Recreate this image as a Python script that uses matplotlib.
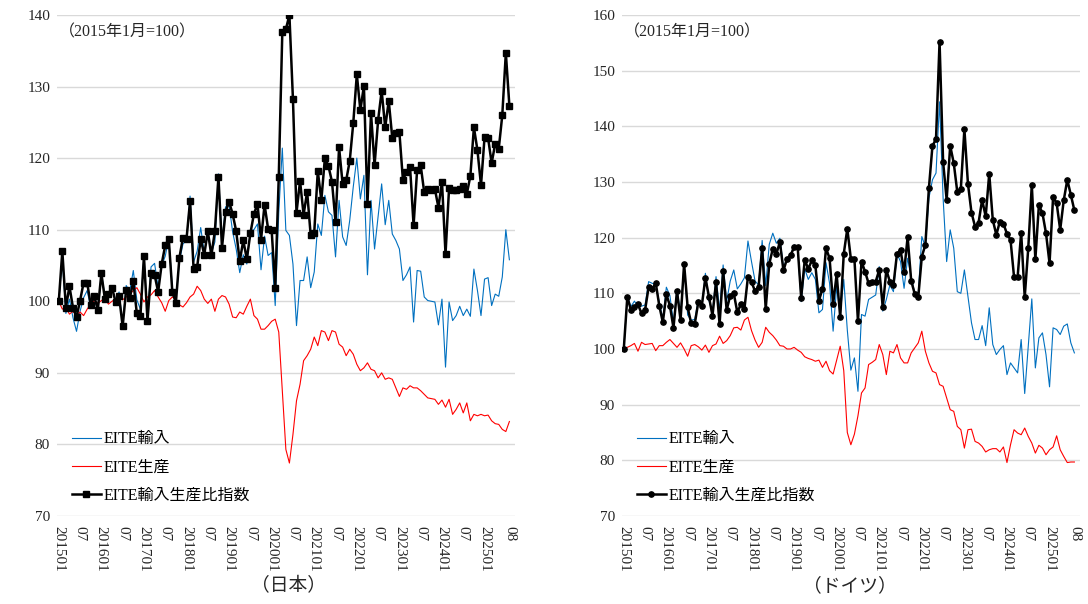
import numpy as np
import pandas as pd
import matplotlib
matplotlib.use('Agg')
import matplotlib.pyplot as plt

plt.rcParams['font.family'] = ['Liberation Serif', 'Noto Sans CJK JP']

# monthly categories, 2015-01 .. 2025-08
months = pd.period_range('2015-01', '2025-08', freq='M')

# --- Japan (2015年1月=100) ---
jp_import = [
    100.0, 105.8, 98.3, 100.3, 97.7, 95.8, 98.6, 100.5, 101.5, 99.1,
    100.8, 98.5, 104.0, 100.7, 100.6, 101.9, 100.2, 101.3, 96.7, 102.2,
    101.4, 104.3, 100.2, 98.9, 106.2, 97.9, 104.8, 105.3, 101.9, 105.0,
    106.3, 108.8, 101.9, 100.1, 105.6, 108.0, 108.5, 114.7, 105.5, 107.0,
    110.3, 106.8, 109.5, 106.7, 108.3, 117.8, 108.4, 113.2, 113.4, 109.7,
    107.3, 104.0, 106.5, 105.2, 109.8, 110.0, 110.8, 104.4, 109.1, 106.4,
    106.8, 99.4, 112.4, 121.4, 109.9, 109.2, 105.2, 96.6, 102.9, 102.9,
    106.2, 101.9, 104.1, 110.8, 109.2, 114.8, 112.5, 112.0, 106.2, 114.1,
    109.0, 107.8, 111.3, 116.0, 120.0, 114.3, 117.6, 103.7, 114.1, 107.3,
    111.8, 116.4, 110.7, 114.1, 109.4, 108.5, 107.3, 102.9, 103.7, 104.8,
    97.1, 104.3, 104.2, 100.6, 100.1, 100.0, 99.9, 96.7, 100.3, 90.8,
    99.9, 97.3, 98.0, 99.3, 98.0, 98.9, 97.9, 104.5, 101.5, 98.0,
    103.1, 103.3, 99.4, 101.0, 100.7, 103.4, 110.0, 105.8,
]
jp_prod = [
    100.0, 98.9, 99.2, 98.2, 98.6, 98.0, 98.5, 98.0, 98.9, 99.6,
    100.1, 99.7, 100.1, 100.4, 99.6, 100.0, 100.3, 100.6, 100.2, 100.6,
    101.0, 101.5, 101.9, 101.0, 99.9, 100.6, 100.9, 101.5, 100.6, 99.8,
    98.6, 100.1, 100.6, 100.3, 99.5, 99.2, 99.8, 100.6, 101.0, 102.1,
    101.5, 100.3, 99.7, 100.3, 98.6, 100.3, 100.8, 100.6, 99.6, 97.8,
    97.7, 98.5, 98.2, 99.3, 100.3, 98.0, 97.5, 96.1, 96.1, 96.6,
    97.2, 97.5, 95.7, 87.5, 79.3, 77.4, 81.4, 86.1, 88.4, 91.7,
    92.4, 93.3, 95.0, 93.8, 95.9, 95.7, 94.5, 95.9, 95.7, 94.0,
    93.6, 92.4, 93.3, 92.6, 91.2, 90.3, 90.7, 91.4, 90.5, 90.3,
    89.3, 90.0, 89.1, 89.3, 89.1, 87.9, 86.7, 87.9, 87.7, 88.2,
    87.9, 87.9, 87.5, 87.0, 86.5, 86.4, 86.3, 85.6, 86.2, 85.2,
    86.3, 84.2, 84.9, 85.8, 84.4, 85.8, 83.3, 84.2, 84.0, 84.2,
    84.0, 84.1, 83.3, 82.9, 82.8, 82.1, 81.8, 83.2,
]
jp_ratio = [
    100.0, 107.0, 99.1, 102.1, 99.1, 97.8, 100.1, 102.6, 102.6, 99.5,
    100.7, 98.8, 103.9, 100.3, 101.0, 101.9, 99.9, 100.7, 96.5, 101.6,
    100.4, 102.8, 98.3, 97.9, 106.3, 97.3, 103.9, 103.7, 101.3, 105.2,
    107.8, 108.7, 101.3, 99.8, 106.1, 108.9, 108.7, 114.0, 104.5, 104.8,
    108.7, 106.5, 109.8, 106.4, 109.8, 117.4, 107.5, 112.5, 113.9, 112.2,
    109.8, 105.6, 108.5, 105.9, 109.5, 112.2, 113.6, 108.6, 113.5, 110.1,
    109.9, 101.9, 117.4, 137.6, 138.0, 140.0, 128.2, 112.4, 116.8, 112.1,
    115.3, 109.2, 109.6, 118.2, 114.1, 120.0, 118.9, 116.7, 111.1, 121.5,
    116.4, 116.9, 119.6, 124.9, 131.7, 126.7, 130.1, 113.6, 126.3, 119.0,
    125.3, 129.4, 124.3, 128.0, 122.8, 123.5, 123.6, 116.9, 118.1, 118.8,
    110.6, 118.4, 119.0, 115.2, 115.7, 115.6, 115.7, 113.1, 116.7, 106.6,
    115.8, 115.5, 115.5, 115.7, 116.1, 115.0, 117.5, 124.3, 121.1, 116.2,
    122.9, 122.8, 119.3, 122.0, 121.3, 126.0, 134.7, 127.3,
]

# --- Germany (2015年1月=100) ---
de_import = [
    100.0, 109.5, 107.6, 108.6, 107.6, 107.7, 107.9, 112.1, 111.8, 111.6,
    108.4, 105.4, 111.1, 109.6, 104.8, 110.7, 106.4, 115.3, 106.1, 105.2,
    105.3, 108.8, 107.6, 113.6, 108.7, 106.6, 113.0, 106.9, 115.1, 108.6,
    112.2, 114.2, 110.8, 111.7, 112.8, 119.4, 115.7, 112.2, 111.5, 119.5,
    111.4, 118.8, 120.8, 119.0, 119.9, 114.7, 116.2, 116.8, 118.7, 118.2,
    108.5, 114.4, 112.5, 113.7, 112.5, 106.5, 107.1, 115.5, 111.8, 103.2,
    111.1, 106.2, 112.5, 103.4, 96.2, 98.4, 92.4, 106.2, 105.9, 108.9,
    109.3, 109.7, 114.8, 106.8, 108.9, 111.5, 110.3, 117.1, 115.7, 110.9,
    116.3, 113.0, 110.0, 110.0, 120.2, 118.4, 127.1, 130.4, 131.6, 144.4,
    127.1, 115.7, 121.4, 118.1, 110.3, 110.0, 114.2, 109.4, 104.7, 101.7,
    101.7, 104.2, 100.6, 107.4, 100.8, 99.0, 99.9, 100.6, 95.4, 97.5,
    96.6, 95.7, 101.7, 92.0, 100.5, 109.0, 96.6, 102.0, 102.9, 99.0,
    93.2, 103.8, 103.5, 102.6, 104.1, 104.5, 101.1, 99.3,
]
de_prod = [
    100.0, 100.3, 100.6, 101.0, 99.6, 101.2, 100.8, 100.9, 101.0, 99.7,
    100.6, 100.6, 101.2, 101.7, 101.0, 100.3, 101.1, 100.0, 98.7, 100.6,
    100.8, 100.4, 99.8, 100.7, 99.4, 100.6, 100.9, 102.3, 101.0, 101.5,
    102.4, 103.8, 103.9, 103.4, 105.2, 105.7, 103.3, 101.6, 100.3, 101.2,
    103.9, 103.0, 102.4, 101.6, 100.6, 100.5, 100.0, 100.0, 100.3, 99.8,
    99.4, 98.6, 98.3, 98.1, 97.8, 98.0, 96.7, 97.8, 96.1, 95.5,
    98.0, 100.5, 96.1, 85.0, 82.8, 84.7, 88.0, 92.1, 93.0, 97.2,
    97.6, 98.1, 100.8, 99.0, 95.4, 99.6, 99.3, 100.8, 98.4, 97.5,
    97.5, 99.3, 100.2, 101.1, 103.2, 99.6, 97.5, 96.0, 95.7, 93.6,
    93.3, 91.2, 89.1, 88.8, 86.1, 85.5, 82.2, 85.5, 85.6, 83.4,
    83.1, 82.5, 81.5, 81.9, 82.1, 82.1, 81.5, 82.4, 79.6, 82.8,
    85.5, 84.9, 84.6, 85.8, 84.3, 83.1, 81.3, 82.7, 82.2, 81.0,
    81.9, 82.4, 84.4, 81.9, 80.7, 79.6, 79.7, 79.7,
]
de_ratio = [
    100.0, 109.4, 107.0, 107.5, 108.0, 106.4, 107.0, 111.1, 110.7, 111.9,
    107.8, 104.8, 109.8, 107.8, 103.8, 110.4, 105.2, 115.3, 107.5, 104.6,
    104.5, 108.4, 107.8, 112.8, 109.4, 106.0, 112.0, 104.5, 114.0, 107.0,
    109.6, 110.0, 106.6, 108.0, 107.2, 113.0, 112.0, 110.4, 111.2, 118.1,
    107.2, 115.3, 118.0, 117.1, 119.2, 114.1, 116.2, 116.8, 118.3, 118.4,
    109.2, 116.0, 114.4, 115.9, 115.0, 108.7, 110.8, 118.1, 116.3, 108.1,
    113.4, 105.7, 117.1, 121.6, 116.2, 116.2, 105.0, 115.7, 113.9, 111.8,
    112.0, 112.1, 114.2, 107.5, 114.2, 112.1, 111.5, 117.1, 117.8, 113.8,
    120.1, 112.3, 109.9, 109.3, 116.6, 118.7, 128.9, 136.5, 137.7, 155.2,
    133.6, 126.8, 136.5, 133.4, 128.2, 128.8, 139.5, 129.7, 124.5, 122.0,
    122.7, 126.8, 123.8, 131.5, 123.2, 120.5, 122.9, 122.5, 120.7, 119.6,
    112.9, 112.9, 120.9, 109.3, 118.1, 129.5, 116.1, 125.9, 124.4, 120.8,
    115.4, 127.3, 126.2, 121.4, 126.7, 130.4, 127.7, 124.9,
]

series_labels = ['EITE輸入', 'EITE生産', 'EITE輸入生産比指数']
note = '（2015年1月=100）'

BLUE = '#0070C0'
RED = '#FF0000'
GRID = '#D9D9D9'
TEXT = '#262626'


def _tick_positions():
    """Month index and text of the labelled categories."""
    pos, labels = [], []
    for i, p in enumerate(months):
        if i == len(months) - 1:
            pos.append(i)
            labels.append('%02d' % p.month)
        elif p.month == 1:
            pos.append(i)
            labels.append('%d01' % p.year)
        elif p.month == 7 and i < len(months) - 2:
            pos.append(i)
            labels.append('07')
    return pos, labels


def _plot_panel(rect, imports, prod, ratio, marker, ymax, title, title_x):
    """One country panel: import, production and their ratio index."""
    ax = fig.add_axes(rect)
    x = np.arange(len(ratio))
    ax.plot(x, imports, color=BLUE, lw=0.8, label=series_labels[0])
    ax.plot(x, prod, color=RED, lw=0.8, label=series_labels[1])
    ax.plot(x, ratio, color='black', lw=1.8, marker=marker,
            ms=4.0 if marker == 's' else 3.8, label=series_labels[2])

    ax.set_ylim(70, ymax)
    ax.set_yticks(np.arange(70, ymax + 1, 10))
    ax.set_xlim(-0.5, 128.6)
    pos, labels = _tick_positions()
    ax.set_xticks(pos)
    ax.set_xticklabels(labels, rotation=270, fontsize=11, color=TEXT)
    ax.tick_params(axis='y', labelsize=11, labelcolor=TEXT, length=0, pad=5)
    ax.tick_params(axis='x', length=0, pad=7)
    ax.grid(axis='y', color=GRID, lw=1.0)
    ax.set_axisbelow(True)
    for s in ax.spines.values():
        s.set_visible(False)

    ax.text(0.004, 0.966, note, transform=ax.transAxes, fontsize=11.5,
            va='center', ha='left', color=TEXT)
    ax.legend(loc='lower left', bbox_to_anchor=(0.008, 0.003), frameon=False,
              fontsize=11.5, handlelength=1.8, handletextpad=0.2,
              labelspacing=0.75, borderaxespad=0.3)
    fig.text(title_x, 0.029, title, ha='center', va='center', fontsize=13.5,
             color=TEXT)
    return ax


fig = plt.figure(figsize=(10.88, 6.04), dpi=100)
_plot_panel([0.0524, 0.1457, 0.421, 0.8295], jp_import, jp_prod, jp_ratio,
            's', 140, '（日本）', 0.265)
_plot_panel([0.5717, 0.1457, 0.421, 0.8295], de_import, de_prod, de_ratio,
            'o', 160, '（ドイツ）', 0.781)
fig.savefig('out.png', dpi=100)
